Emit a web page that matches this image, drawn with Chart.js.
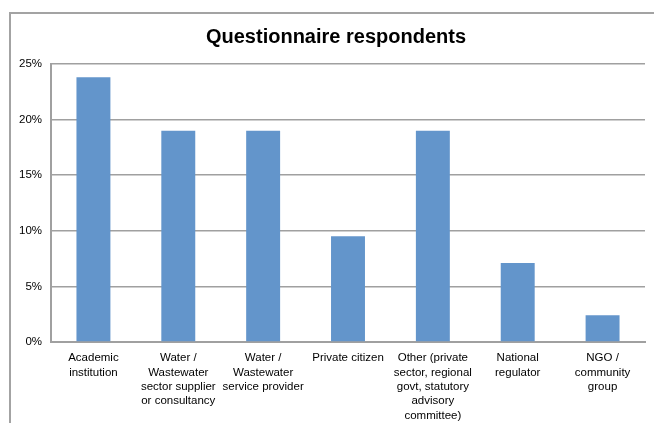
<!DOCTYPE html>
<html>
<head>
<meta charset="utf-8">
<script src="https://cdn.jsdelivr.net/npm/chart.js@4.4.1/dist/chart.umd.min.js"></script>
<style>
  html, body { margin: 0; padding: 0; background: #fff; overflow: hidden; }
  #wrap { position: relative; width: 654px; height: 423px; }
  #frame { position: absolute; left: 9px; top: 12px; width: 700px; height: 500px; border: 2px solid #a3a3a3; box-sizing: border-box; }
  canvas { position: absolute; left: 0; top: 0; }
</style>
</head>
<body>
<div id="wrap">
  <div id="frame"></div>
  <canvas id="chart" width="654" height="423"></canvas>
</div>
<script>
// respondent groups and share of respondents (fraction of 42)
const categories = [
  ['Academic', 'institution'],
  ['Water /', 'Wastewater', 'sector supplier', 'or consultancy'],
  ['Water /', 'Wastewater', 'service provider'],
  ['Private citizen'],
  ['Other (private', 'sector, regional', 'govt, statutory', 'advisory', 'committee)'],
  ['National', 'regulator'],
  ['NGO /', 'community', 'group']
];
const shares = [0.238, 0.190, 0.190, 0.095, 0.190, 0.071, 0.024];
const yTicks = [0, 0.05, 0.10, 0.15, 0.20, 0.25];

const font = "'Liberation Sans', Arial, sans-serif";
const gridGray = '#a0a0a0';

// the original chart is wider than the crop, so its title sits right of centre
const shiftTitle = {
  id: 'shiftTitle',
  afterLayout(chart) {
    chart.titleBlock.left = 18;
    chart.titleBlock.right = 654;
  }
};

new Chart(document.getElementById('chart').getContext('2d'), {
  type: 'bar',
  data: {
    labels: categories,
    datasets: [{
      data: shares,
      backgroundColor: '#6395cb',
      borderWidth: 0,
      categoryPercentage: 1,
      barPercentage: 0.4
    }]
  },
  options: {
    responsive: false,
    animation: false,
    layout: { padding: { left: 0, right: 9, top: 0, bottom: 0 } },
    plugins: {
      legend: { display: false },
      tooltip: { enabled: false },
      title: {
        display: true,
        text: 'Questionnaire respondents',
        color: '#000',
        font: { family: font, size: 20, weight: 'bold' },
        padding: { top: 25, bottom: 15 }
      }
    },
    scales: {
      x: {
        grid: { display: false, drawTicks: false },
        border: { display: true, color: gridGray, width: 2 },
        ticks: {
          color: '#000',
          font: { family: font, size: 11.5, lineHeight: 1.25 },
          padding: 9,
          maxRotation: 0,
          autoSkip: false
        },
        afterFit: s => { s.height = 81; }
      },
      y: {
        min: 0,
        max: 0.25,
        afterBuildTicks: s => { s.ticks = yTicks.map(v => ({ value: v })); },
        grid: { color: gridGray, lineWidth: 1.5, drawTicks: false },
        border: { display: true, color: gridGray, width: 2 },
        ticks: {
          color: '#000',
          font: { family: font, size: 11.5 },
          padding: 9,
          callback: v => Math.round(v * 100) + '%'
        },
        afterFit: s => { s.width = 51; }
      }
    }
  },
  plugins: [shiftTitle]
});
</script>
</body>
</html>
